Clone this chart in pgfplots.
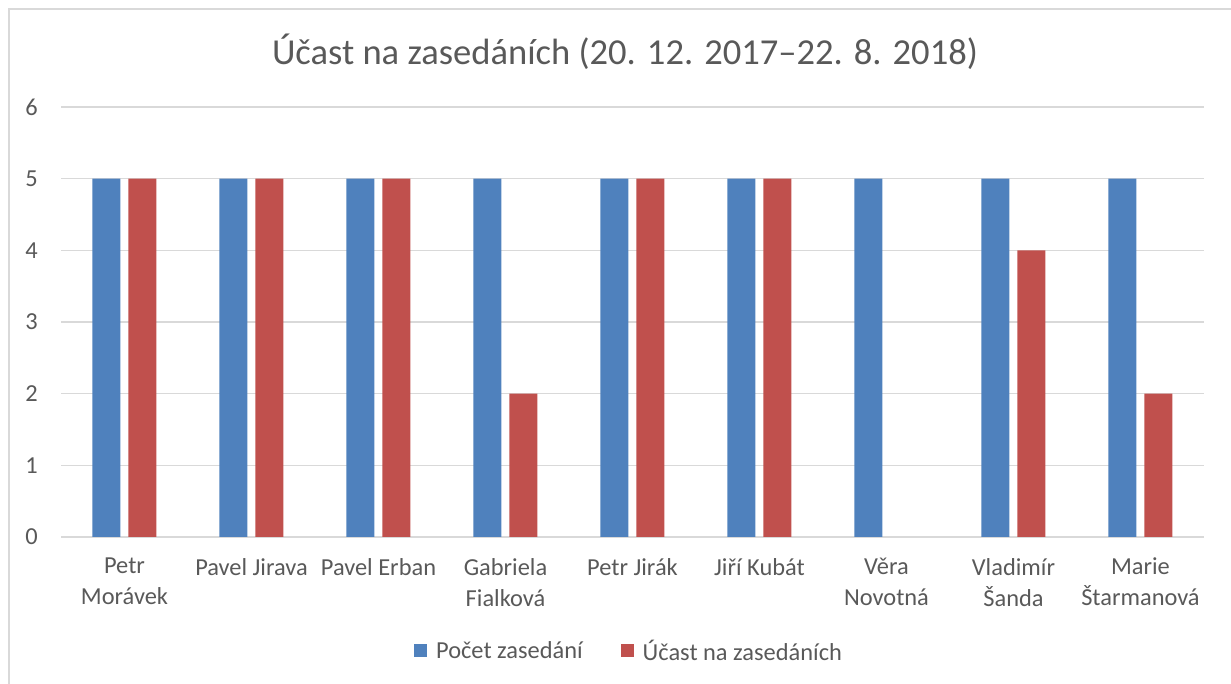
\documentclass[border=0pt]{standalone}
\usepackage{pgfplots}
\pgfplotsset{compat=1.18}
\usepackage{fontspec}
\setmainfont{Carlito}

\definecolor{barblue}{HTML}{4F81BD}
\definecolor{barred}{HTML}{C0504D}
\definecolor{txtgray}{HTML}{595959}
\definecolor{gridgray}{HTML}{D9D9D9}

\begin{document}
\begin{tikzpicture}
% page = 1231 x 684 px, 1bp = 1px
\path[use as bounding box] (0,0) rectangle (1231bp,684bp);
\draw[gridgray, line width=1.5bp] (9bp,0) -- (9bp,675bp) -- (1231bp,675bp);
\node[txtgray, font=\fontsize{36.7}{44}\selectfont] at (625bp,632bp) {Účast na zasedáních (20. 12. 2017–22. 8. 2018)};

\begin{axis}[
    at={(61bp,147bp)}, anchor=south west,
    scale only axis,
    width=1143bp, height=430bp,
    ybar=8bp, bar width=28bp,
    xmin=-0.5, xmax=8.5,
    ymin=0, ymax=6,
    xtick={0,...,8},
    xticklabels={{Petr\\Morávek},{Pavel Jirava},{Pavel Erban},{Gabriela\\Fialková},{Petr Jirák},{Jiří Kubát},{Věra\\Novotná},{Vladimír\\Šanda},{Marie\\Štarmanová}},
    ytick={0,...,6},
    major tick length=0pt,
    axis x line=bottom, axis y line=left,
    y axis line style={draw=none},
    x axis line style={draw=gridgray, line width=1.5bp, -},
    ymajorgrids, grid style={gridgray, line width=1.5bp},
    /pgf/number format/assume math mode=true,
    tick label style={txtgray, font=\fontsize{24.5}{31}\selectfont},
    xticklabel style={align=center, anchor=north, inner sep=0pt, yshift=-21bp},
    yticklabel style={anchor=east, inner sep=0pt, xshift=-23bp},
    legend columns=2,
    legend style={at={(0.497,-0.265)}, anchor=center, draw=none, fill=none,
        font=\fontsize{24.5}{29}\selectfont, text=txtgray,
        /tikz/every odd column/.append style={column sep=7bp},
        /tikz/every even column/.append style={column sep=36bp}},
    legend image code/.code={\fill[#1] (0bp,-6.5bp) rectangle (13bp,6.5bp);},
]
\addplot[fill=barblue, draw=none] coordinates {
    (0,5) (1,5) (2,5) (3,5) (4,5) (5,5) (6,5) (7,5) (8,5)
};
% a zero bar is not drawn, as in the original
\addplot[fill=barred, draw=none, y filter/.expression={y==0 ? nan : y}] coordinates {
    (0,5) (1,5) (2,5) (3,2) (4,5) (5,5) (6,0) (7,4) (8,2)
};
\legend{Počet zasedání, Účast na zasedáních}
\end{axis}
\end{tikzpicture}
\end{document}
